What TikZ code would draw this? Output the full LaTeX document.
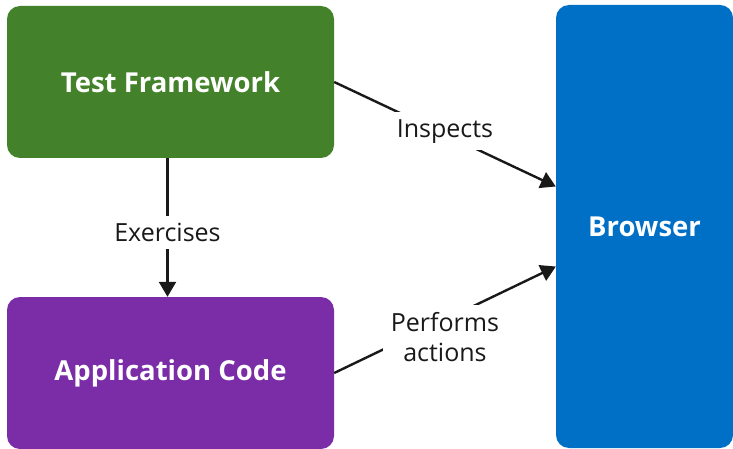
\documentclass[tikz,border=0pt]{standalone}
\usepackage{fontspec}
\setmainfont{Open Sans}
\usetikzlibrary{arrows.meta}
\definecolor{tfgreen}{HTML}{43822A}
\definecolor{acpurple}{HTML}{7A2DA6}
\definecolor{brblue}{HTML}{0070C6}
\tikzset{
  box/.style={rounded corners=13pt, inner sep=0pt, text=white,
    font=\fontsize{27.5}{32}\selectfont\bfseries},
  conn/.style={line width=2.4pt, draw=black!90,
    -{Triangle[length=15pt,width=17pt]}},
  lbl/.style={fill=white, text=black!90, inner xsep=8pt, inner ysep=7pt,
    font=\fontsize{25}{30}\selectfont, align=center}
}
\begin{document}
\begin{tikzpicture}[x=1pt,y=-1pt]
\useasboundingbox (0,0) rectangle (733,449);
\node[box, fill=tfgreen, minimum width=327pt, minimum height=152pt] (tf) at (170.5,82) {Test Framework};
\node[box, fill=acpurple, minimum width=327pt, minimum height=152pt] (ac) at (170.5,373) {\raisebox{-3pt}{Application Code}};
\node[box, fill=brblue, minimum width=177pt, minimum height=443pt] (br) at (644.5,226.5) {\raisebox{-2pt}{Browser}};
\draw[conn] ([xshift=-3pt]tf.south) -- node[lbl, yshift=-5pt] (ex) {Exercises} ([xshift=-3pt]ac.north);
\draw[conn] (tf.east) -- node[lbl, yshift=3pt] (in) {Inspects} ([yshift=40pt]br.west);
\draw[conn] (ac.east) -- node[lbl, yshift=-17pt] (pa) {Performs\\actions} ([yshift=-40pt]br.west);
\end{tikzpicture}
\end{document}
